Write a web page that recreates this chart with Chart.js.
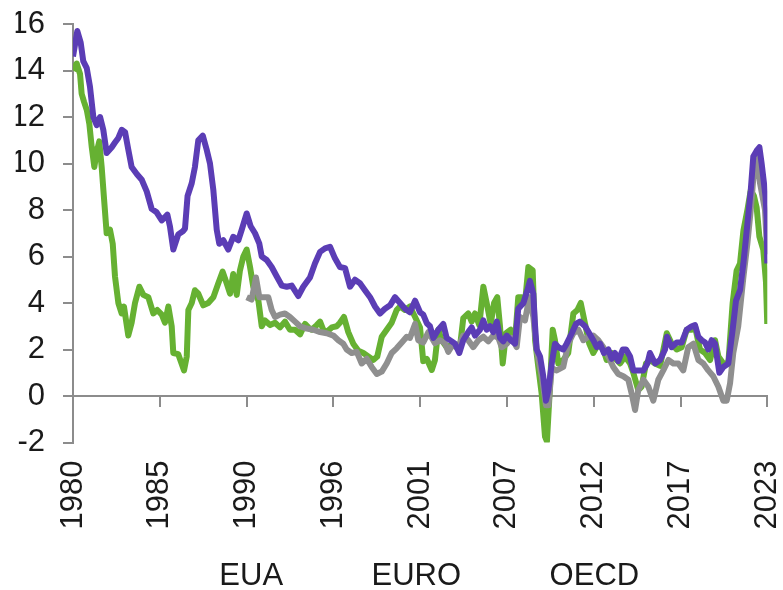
<!DOCTYPE html>
<html>
<head>
<meta charset="utf-8">
<script src="https://cdn.jsdelivr.net/npm/chart.js@4/dist/chart.umd.min.js"></script>
<style>
    html, body { margin: 0; padding: 0; background: #ffffff; }
    #wrap { width: 783px; height: 590px; }
</style>
</head>
<body>
<div id="wrap"><canvas id="chart"></canvas></div>
<script>
const startYear = 1980;
const endMonth = 520;          // May 2023, counted in months from Jan 1980
const xTickStep = 65;
const xTickLabels = ['1980', '1985', '1990', '1996', '2001', '2007', '2012', '2017', '2023'];

const seriesNames = ['EUA', 'EURO', 'OECD'];

const euaYears = [1980.00, 1980.23, 1980.44, 1980.54, 1980.69, 1980.86, 1981.02, 1981.17, 1981.33, 1981.48,
    1981.64, 1981.79, 1981.93, 1982.10, 1982.31, 1982.48, 1982.62, 1982.83, 1983.04, 1983.18,
    1983.45, 1983.66, 1983.87, 1984.14, 1984.39, 1984.70, 1985.01, 1985.26, 1985.54, 1985.74,
    1985.95, 1986.16, 1986.26, 1986.57, 1986.93, 1987.10, 1987.20, 1987.41, 1987.61, 1987.82,
    1988.13, 1988.44, 1988.76, 1989.07, 1989.34, 1989.59, 1989.80, 1990.00, 1990.22, 1990.42,
    1990.63, 1990.84, 1991.05, 1991.25, 1991.57, 1991.78, 1991.98, 1992.30, 1992.61, 1992.92,
    1993.23, 1993.54, 1993.86, 1994.17, 1994.48, 1994.69, 1994.90, 1995.21, 1995.42, 1995.62,
    1995.83, 1996.15, 1996.46, 1996.66, 1996.91, 1997.18, 1997.49, 1997.81, 1998.12, 1998.43,
    1998.74, 1998.99, 1999.27, 1999.58, 1999.89, 2000.20, 2000.41, 2000.72, 2001.03, 2001.35,
    2001.66, 2001.86, 2002.08, 2002.39, 2002.59, 2002.80, 2003.01, 2003.32, 2003.64, 2003.95,
    2004.15, 2004.36, 2004.67, 2004.88, 2005.09, 2005.36, 2005.61, 2005.82, 2006.07, 2006.28,
    2006.48, 2006.65, 2006.82, 2007.03, 2007.32, 2007.59, 2007.79, 2008.01, 2008.21, 2008.42,
    2008.69, 2008.84, 2009.04, 2009.25, 2009.46, 2009.58, 2009.77, 2009.94, 2010.08, 2010.29,
    2010.60, 2010.91, 2011.23, 2011.48, 2011.69, 2011.96, 2012.22, 2012.47, 2012.79, 2013.10,
    2013.31, 2013.62, 2013.93, 2014.14, 2014.45, 2014.77, 2014.97, 2015.28, 2015.49, 2015.76,
    2016.01, 2016.33, 2016.64, 2017.06, 2017.37, 2017.68, 2017.99, 2018.30, 2018.62, 2018.82,
    2019.13, 2019.45, 2019.76, 2020.07, 2020.28, 2020.59, 2020.90, 2021.17, 2021.42, 2021.63,
    2021.84, 2022.09, 2022.30, 2022.50, 2022.67, 2022.84, 2023.08, 2023.25, 2023.33];
const euaValues = [14.0, 14.3, 13.85, 13.0, 12.65, 12.3, 11.7, 10.7, 9.85, 10.5,
    10.95, 9.85, 8.55, 7.0, 7.15, 6.55, 5.15, 4.0, 3.55, 3.85,
    2.6, 3.15, 4.0, 4.7, 4.35, 4.25, 3.55, 3.7, 3.5, 3.15,
    3.85, 3.0, 1.85, 1.8, 1.1, 1.7, 3.7, 4.0, 4.55, 4.4,
    3.9, 4.0, 4.25, 4.85, 5.35, 4.85, 4.4, 5.25, 4.35, 5.4,
    6.0, 6.3, 5.55, 4.7, 4.1, 3.0, 3.25, 3.05, 3.15, 2.95,
    3.2, 2.85, 2.85, 2.65, 3.1, 2.95, 2.85, 3.05, 3.2, 2.85,
    2.75, 2.95, 3.0, 3.15, 3.4, 2.75, 2.25, 1.95, 1.85, 1.7,
    1.55, 1.7, 2.55, 2.85, 3.15, 3.7, 3.85, 3.7, 3.85, 3.4,
    2.95, 1.5, 1.6, 1.12, 1.55, 2.85, 2.4, 2.1, 2.2, 2.1,
    2.1, 3.35, 3.55, 3.2, 3.55, 3.05, 4.7, 4.0, 3.1, 4.0,
    4.25, 3.0, 1.4, 2.7, 2.85, 2.4, 4.25, 4.25, 4.0, 5.55,
    5.4, 2.4, 1.25, 0.1, -1.75, -1.95, 0.4, 2.85, 2.4, 1.4,
    1.55, 1.85, 3.55, 3.7, 4.0, 3.1, 2.25, 1.85, 2.25, 2.0,
    1.55, 1.85, 1.55, 1.4, 1.7, 1.4, 1.0, 0.25, 0.4, 1.4,
    1.55, 1.4, 1.3, 2.7, 2.25, 2.0, 2.1, 2.85, 2.85, 3.0,
    2.0, 1.85, 1.55, 2.4, 1.7, 1.4, 1.4, 4.0, 5.4, 5.7,
    7.1, 8.0, 8.85, 8.6, 8.1, 6.85, 6.3, 4.9, 3.1];

const euroYears = [1990.84, 1991.15, 1991.42, 1991.63, 1991.88, 1992.19, 1992.40, 1992.61, 1992.92, 1993.23,
    1993.54, 1993.86, 1994.17, 1994.59, 1995.00, 1995.42, 1995.83, 1996.25, 1996.56, 1996.87,
    1997.08, 1997.39, 1997.71, 1998.02, 1998.33, 1998.64, 1998.96, 1999.27, 1999.58, 1999.89,
    2000.20, 2000.52, 2000.83, 2001.03, 2001.35, 2001.55, 2001.86, 2002.18, 2002.59, 2002.91,
    2003.22, 2003.42, 2003.74, 2004.05, 2004.36, 2004.67, 2004.98, 2005.30, 2005.61, 2005.92,
    2006.23, 2006.55, 2006.76, 2007.07, 2007.38, 2007.69, 2007.90, 2008.21, 2008.48, 2008.73,
    2008.94, 2009.25, 2009.52, 2009.68, 2009.88, 2010.19, 2010.60, 2010.91, 2011.23, 2011.54,
    2011.85, 2012.16, 2012.47, 2012.79, 2013.10, 2013.41, 2013.72, 2014.03, 2014.35, 2014.66,
    2014.87, 2015.08, 2015.28, 2015.60, 2015.91, 2016.22, 2016.53, 2016.84, 2017.16, 2017.47,
    2017.78, 2018.09, 2018.40, 2018.72, 2019.03, 2019.34, 2019.65, 2019.96, 2020.28, 2020.59,
    2020.80, 2021.01, 2021.21, 2021.52, 2021.84, 2022.09, 2022.30, 2022.50, 2022.67, 2022.88,
    2023.19, 2023.33];
const euroValues = [4.25, 4.15, 5.1, 4.25, 4.25, 4.25, 3.7, 3.4, 3.5, 3.55,
    3.4, 3.2, 3.0, 2.9, 2.85, 2.75, 2.7, 2.6, 2.4, 2.25,
    2.0, 1.85, 1.9, 1.4, 1.6, 1.25, 0.95, 1.05, 1.4, 1.85,
    2.05, 2.3, 2.55, 2.5, 3.1, 2.4, 2.3, 2.75, 2.27, 2.4,
    2.27, 1.9, 2.25, 2.1, 2.6, 2.4, 2.1, 2.4, 2.55, 2.35,
    2.6, 2.5, 2.1, 2.25, 2.5, 2.1, 3.4, 3.25, 4.25, 3.4,
    2.0, 0.85, -0.4, -0.4, 1.2, 1.1, 1.25, 2.25, 2.7, 2.85,
    2.4, 2.55, 2.6, 2.4, 2.1, 1.7, 1.25, 0.95, 0.85, 0.7,
    0.1, -0.6, 0.25, 0.7, 0.4, -0.2, 0.7, 1.1, 1.55, 1.4,
    1.4, 1.1, 2.1, 2.25, 1.55, 1.4, 1.1, 0.85, 0.4, -0.2,
    -0.2, 0.55, 1.85, 3.0, 5.1, 6.55, 8.0, 9.7, 10.3, 9.15,
    8.0, 6.1];

const oecdYears = [1980.00, 1980.27, 1980.48, 1980.64, 1980.86, 1981.06, 1981.27, 1981.48, 1981.69, 1981.89,
    1982.10, 1982.42, 1982.62, 1982.83, 1983.04, 1983.25, 1983.45, 1983.66, 1983.98, 1984.29,
    1984.60, 1984.91, 1985.22, 1985.54, 1985.89, 1986.05, 1986.26, 1986.57, 1986.88, 1986.99,
    1987.15, 1987.41, 1987.61, 1987.82, 1988.10, 1988.34, 1988.55, 1988.76, 1988.97, 1989.13,
    1989.38, 1989.69, 1990.00, 1990.32, 1990.53, 1990.84, 1991.09, 1991.36, 1991.63, 1991.78,
    1992.09, 1992.40, 1992.71, 1993.03, 1993.34, 1993.65, 1994.06, 1994.37, 1994.79, 1995.10,
    1995.42, 1995.73, 1996.04, 1996.35, 1996.66, 1996.98, 1997.29, 1997.60, 1997.91, 1998.22,
    1998.54, 1998.85, 1999.16, 1999.47, 1999.79, 2000.10, 2000.41, 2000.72, 2001.03, 2001.35,
    2001.66, 2001.86, 2002.08, 2002.28, 2002.49, 2002.80, 2003.11, 2003.32, 2003.64, 2003.84,
    2004.11, 2004.36, 2004.67, 2004.88, 2005.09, 2005.40, 2005.61, 2005.82, 2006.03, 2006.23,
    2006.45, 2006.65, 2006.86, 2007.07, 2007.32, 2007.59, 2007.79, 2008.11, 2008.36, 2008.52,
    2008.73, 2008.84, 2008.94, 2009.15, 2009.35, 2009.52, 2009.67, 2009.88, 2010.08, 2010.29,
    2010.60, 2010.81, 2011.13, 2011.39, 2011.64, 2011.96, 2012.22, 2012.47, 2012.69, 2012.89,
    2013.14, 2013.41, 2013.62, 2013.83, 2014.03, 2014.31, 2014.52, 2014.77, 2014.97, 2015.28,
    2015.60, 2015.85, 2016.01, 2016.33, 2016.64, 2016.95, 2017.07, 2017.37, 2017.68, 2017.99,
    2018.30, 2018.62, 2018.82, 2019.03, 2019.24, 2019.45, 2019.65, 2019.86, 2020.07, 2020.34,
    2020.59, 2020.90, 2021.17, 2021.38, 2021.63, 2021.84, 2022.09, 2022.30, 2022.46, 2022.67,
    2022.84, 2022.98, 2023.22, 2023.30, 2023.33];
const oecdValues = [14.6, 15.7, 15.2, 14.4, 14.1, 13.3, 12.0, 11.65, 12.0, 11.45,
    10.45, 10.7, 10.9, 11.1, 11.45, 11.35, 10.6, 9.85, 9.55, 9.3,
    8.8, 8.05, 7.9, 7.55, 7.8, 7.3, 6.3, 6.95, 7.1, 7.2,
    8.6, 9.15, 9.85, 11.0, 11.2, 10.6, 10.0, 8.85, 7.15, 6.55,
    6.7, 6.3, 6.85, 6.7, 7.15, 7.85, 7.3, 7.0, 6.55, 6.0,
    5.85, 5.55, 5.15, 4.75, 4.7, 4.75, 4.3, 4.7, 5.1, 5.7,
    6.2, 6.35, 6.42, 5.92, 5.55, 5.5, 4.7, 5.0, 4.85, 4.55,
    4.25, 3.85, 3.55, 3.75, 3.9, 4.25, 4.0, 3.75, 3.6, 4.1,
    3.6, 3.5, 3.13, 3.0, 2.5, 2.85, 3.1, 2.5, 2.35, 2.25,
    1.85, 2.4, 2.75, 2.95, 2.6, 2.85, 3.25, 2.85, 3.0, 2.75,
    3.2, 2.5, 2.35, 2.6, 2.4, 2.25, 3.75, 4.0, 4.55, 4.95,
    4.4, 3.0, 2.0, 1.7, 0.85, -0.2, 0.25, 1.4, 2.25, 2.1,
    2.0, 2.25, 2.7, 3.1, 3.2, 3.0, 2.7, 2.4, 2.1, 2.25,
    1.85, 2.0, 1.6, 1.85, 1.5, 2.0, 2.0, 1.7, 1.1, 1.1,
    1.1, 1.4, 1.85, 1.4, 1.55, 2.0, 2.55, 2.1, 2.3, 2.3,
    2.85, 3.0, 3.05, 2.55, 2.4, 2.3, 2.0, 2.4, 2.25, 1.0,
    1.25, 1.4, 2.85, 4.1, 4.55, 5.7, 7.4, 8.85, 10.3, 10.55,
    10.7, 10.0, 8.6, 7.6, 5.7];

const yMin = -2;
const yMax = 16;
const yStep = 2;

const axisColor = '#8c8c8c';
const textColor = '#1a1a1a';
const fontFamily = '"Liberation Sans", Arial, sans-serif';

function toPoints(years, values) {
    return years.map((yr, i) => ({x: (yr - startYear) * 12, y: values[i]}));
}

function lineDataset(label, years, values, color, order) {
    return {
        label: label,
        data: toPoints(years, values),
        borderColor: color,
        backgroundColor: color,
        borderWidth: 6,
        borderJoinStyle: 'round',
        pointRadius: 0,
        pointHoverRadius: 0,
        tension: 0,
        fill: false,
        order: order
    };
}

let ctx = document.getElementById('chart').getContext('2d');
let chart = new Chart(ctx, {
    type: 'line',
    data: {
        datasets: [
            lineDataset(seriesNames[0], euaYears, euaValues, '#66b132', 3),
            lineDataset(seriesNames[1], euroYears, euroValues, '#8f8f8f', 2),
            lineDataset(seriesNames[2], oecdYears, oecdValues, '#5b3db5', 1)
        ]
    },
    options: {
        animation: false,
        responsive: true,
        maintainAspectRatio: false,
        layout: {padding: {left: 15.7, right: 15.7, top: 24, bottom: -12}},
        plugins: {
            tooltip: {enabled: false},
            legend: {
                position: 'bottom',
                labels: {
                    font: {family: fontFamily, size: 31},
                    color: textColor,
                    boxWidth: 60,
                    boxHeight: 0,
                    padding: 13,
                    // text only, no colour keys
                    generateLabels: (c) => c.data.datasets.map((ds, i) => ({
                        text: ds.label,
                        fillStyle: 'rgba(0,0,0,0)',
                        strokeStyle: 'rgba(0,0,0,0)',
                        lineWidth: 0,
                        hidden: false,
                        fontColor: textColor,
                        datasetIndex: i
                    }))
                }
            }
        },
        scales: {
            x: {
                type: 'linear',
                position: 'bottom',
                min: 0,
                max: endMonth,
                grid: {display: false, drawTicks: false},
                border: {display: false},
                ticks: {
                    stepSize: xTickStep,
                    autoSkip: false,
                    minRotation: 90,
                    maxRotation: 90,
                    padding: 18,
                    color: textColor,
                    font: {family: fontFamily, size: 31},
                    callback: (v, i) => xTickLabels[i]
                },
                afterFit: (s) => {
                    s.paddingLeft = 0;
                    s.paddingRight = 0;
                    s.height = 105.5;
                }
            },
            // category axis line crossing at zero, ticks pointing down
            x0: {
                type: 'linear',
                position: {y: 0},
                min: 0,
                max: endMonth,
                grid: {drawOnChartArea: false, drawTicks: true, tickLength: 10, color: axisColor, lineWidth: 2},
                border: {display: true, color: axisColor, width: 2},
                ticks: {stepSize: xTickStep, display: false}
            },
            y: {
                min: yMin,
                max: yMax,
                grid: {drawOnChartArea: false, drawTicks: true, tickLength: 10, color: axisColor, lineWidth: 2},
                border: {display: true, color: axisColor, width: 2},
                ticks: {
                    stepSize: yStep,
                    padding: 18,
                    color: textColor,
                    font: {family: fontFamily, size: 31}
                },
                afterFit: (s) => {
                    s.width = 57.3;
                    s.paddingTop = 0;
                    s.paddingBottom = 0;
                }
            }
        }
    }
});
</script>
</body>
</html>
